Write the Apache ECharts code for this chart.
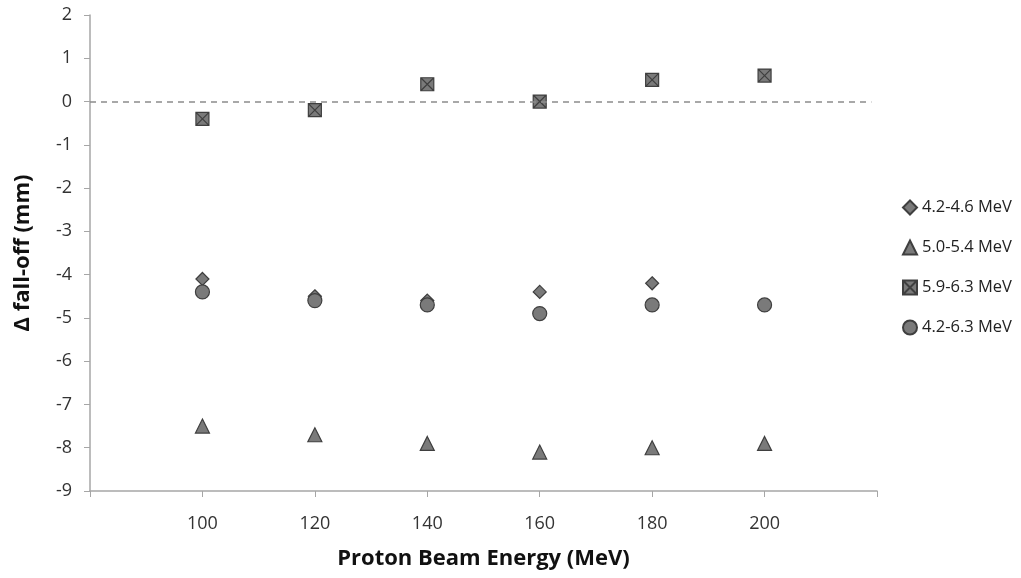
<!DOCTYPE html>
<html><head><meta charset="utf-8">
<script src="https://cdn.jsdelivr.net/npm/echarts@6/dist/echarts.min.js"></script>
<style>html,body{margin:0;padding:0;background:#fff}#c{width:1021px;height:578px}</style>
</head><body><div id="c"></div>
<script>
const energies = [100, 120, 140, 160, 180, 200];
const s1Name = '4.2-4.6 MeV';
const s1 = [-4.1, -4.5, -4.6, -4.4, -4.2, null];
const s2Name = '5.0-5.4 MeV';
const s2 = [-7.5, -7.7, -7.9, -8.1, -8.0, -7.9];
const s3Name = '5.9-6.3 MeV';
const s3 = [-0.4, -0.2, 0.4, 0.0, 0.5, 0.6];
const s4Name = '4.2-6.3 MeV';
const s4 = [-4.4, -4.6, -4.7, -4.9, -4.7, -4.7];
const xMin = 80, xMax = 220, yMin = -9, yMax = 2;

const FONT = '"Open Sans", Lato, sans-serif';
const pair = arr => energies.map((e, i) => [e, arr[i]]).filter(p => p[1] !== null);
const fill = '#7a7a7a', edge = '#3f3f3f';
const boxX = 'path://M0,0 L10,0 L10,10 L0,10 Z M0,0 L10,10 M10,0 L0,10';

const chart = echarts.init(document.getElementById('c'));
const mk = (name, data, symbol, size) => ({
  name, type: 'scatter', data: pair(data), symbol, symbolSize: size,
  itemStyle: {color: fill, borderColor: edge, borderWidth: 1.2, opacity: 1},
  z: 3
});
chart.setOption({
  animation: false,
  grid: {left: 90, right: 144, top: 15, bottom: 87},
  legend: {
    orient: 'vertical', left: 897, top: 194, itemGap: 23, itemWidth: 14, itemHeight: 14,
    textStyle: {fontFamily: FONT, fontSize: 16.5, color: '#222'},
    data: [s1Name, s2Name, s3Name, s4Name]
  },
  xAxis: {
    type: 'value', min: xMin, max: xMax, interval: 20,
    name: 'Proton Beam Energy (MeV)', nameLocation: 'middle', nameGap: 57,
    nameTextStyle: {fontFamily: FONT, fontSize: 22, fontWeight: 'bold', color: '#111'},
    axisLine: {onZero: false, lineStyle: {color: '#a6a6a6', width: 1.5}},
    axisTick: {show: true, length: 6, lineStyle: {color: '#a6a6a6'}},
    axisLabel: {fontFamily: FONT, fontSize: 18, color: '#333', margin: 24,
      formatter: v => (v === xMin || v === xMax) ? '' : String(v)},
    splitLine: {show: false}
  },
  yAxis: {
    type: 'value', min: yMin, max: yMax, interval: 1,
    name: 'Δ fall-off (mm)', nameLocation: 'middle', nameGap: 56, nameRotate: 90,
    nameTextStyle: {fontFamily: FONT, fontSize: 22, fontWeight: 'bold', color: '#111'},
    axisLine: {show: true, onZero: false, lineStyle: {color: '#a6a6a6', width: 1.5}},
    axisTick: {show: true, length: 6, lineStyle: {color: '#a6a6a6'}},
    axisLabel: {fontFamily: FONT, fontSize: 18, color: '#333', margin: 18},
    splitLine: {show: false}
  },
  series: [
    Object.assign(mk(s1Name, s1, 'diamond', 13), {
      markLine: {
        silent: true, symbol: 'none', label: {show: false},
        lineStyle: {color: '#8c8c8c', type: [6, 5], width: 1.5},
        data: [[{coord: [xMin, 0]}, {coord: [219, 0]}]]
      }
    }),
    mk(s2Name, s2, 'triangle', 14),
    mk(s3Name, s3, boxX, 13),
    mk(s4Name, s4, 'circle', 14)
  ]
});
</script></body></html>
